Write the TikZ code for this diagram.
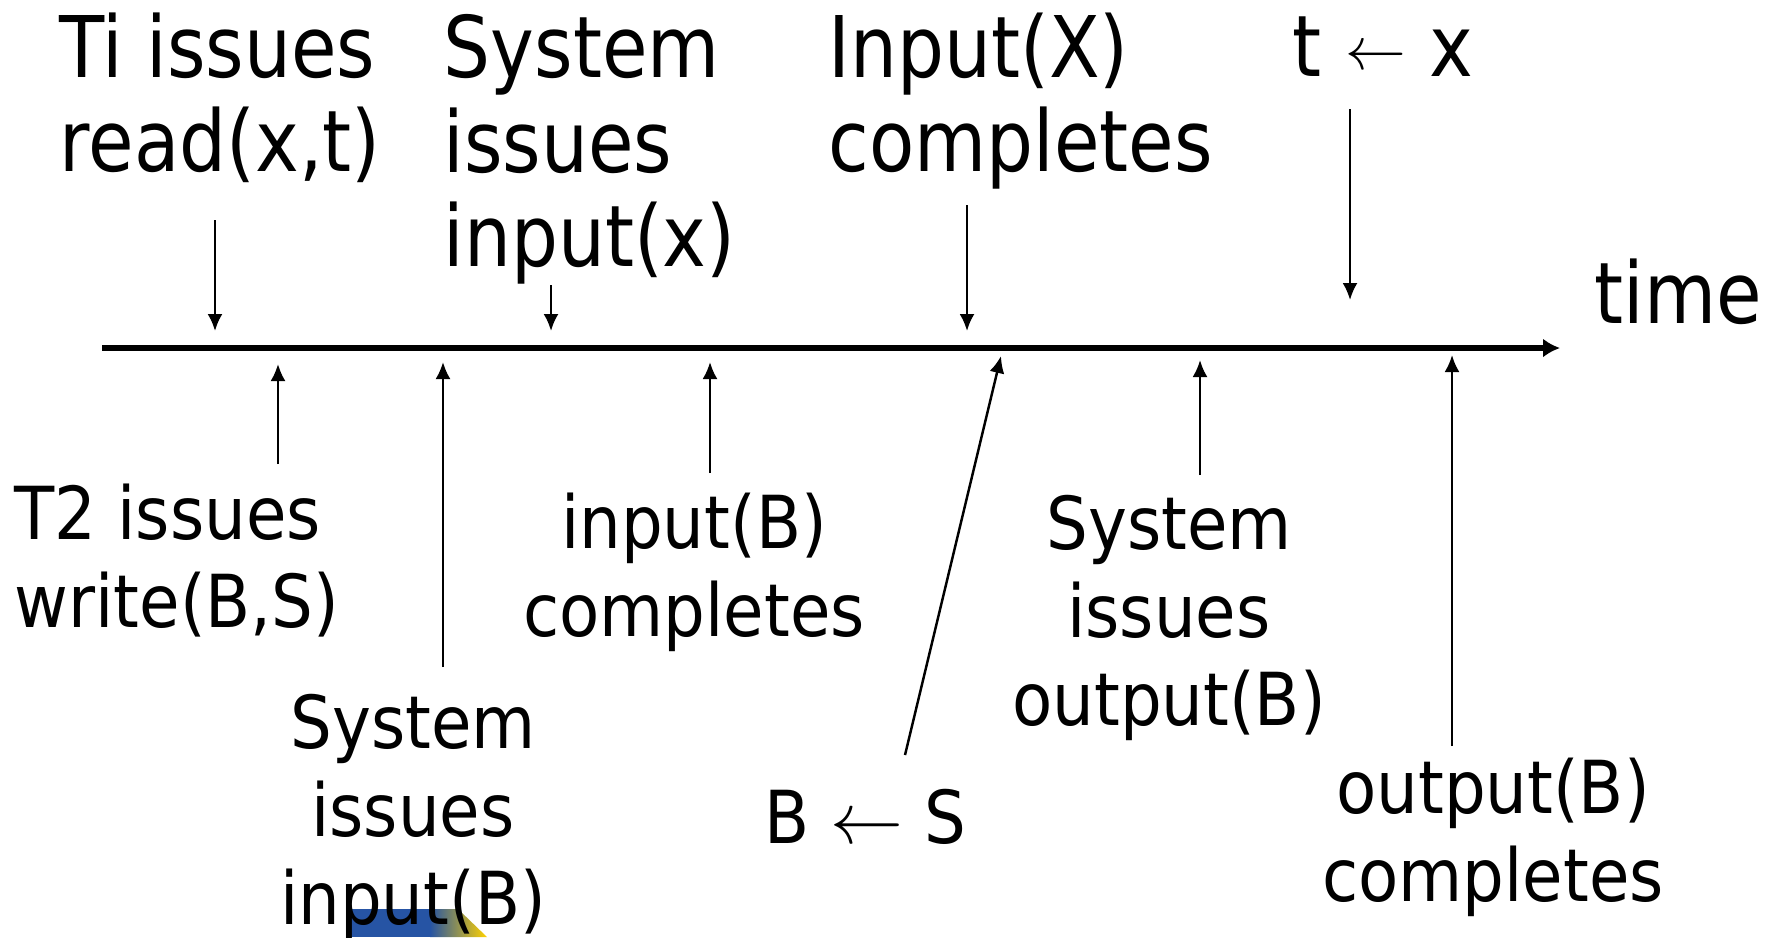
\documentclass[tikz,border=0pt]{standalone}
\usepackage{fontspec}
\setmainfont{DejaVu Sans}[FakeStretch=0.87]
\newfontfamily\lowerfont{DejaVu Sans}[FakeStretch=0.9]
\usetikzlibrary{arrows.meta}

\begin{document}
\begin{tikzpicture}[>={Latex[length=1.7mm,width=1.5mm]}]

\definecolor{logoblue}{RGB}{38, 84, 164}
\definecolor{logoorange}{RGB}{236, 150, 40}
\definecolor{logoyellow}{RGB}{255, 210, 0}

% Page frame
\useasboundingbox (0,0) rectangle (17.73,-9.37);

\tikzset{
    upper label/.style={
        inner sep=0pt, align=left, anchor=north west,
        font=\fontsize{24.2pt}{26.9pt}\selectfont
    },
    lower label/.style={
        inner sep=0pt, align=center, anchor=north,
        font=\lowerfont\fontsize{20.8pt}{25pt}\selectfont
    },
    event/.style={
        ->, line width=0.7pt
    },
    time axis/.style={
        -{Latex[length=1.7mm,width=1.9mm]}, line width=1.7pt
    }
}

% Corner of the logo at the bottom edge
\fill[logoblue] (3.50,-9.09) rectangle (4.31,-9.37);
\shade[left color=logoblue, middle color=logoorange, right color=logoyellow]
    (4.30,-9.09) -- (4.58,-9.09) -- (4.87,-9.37) -- (4.30,-9.37) -- cycle;

% --- TIME AXIS ---
\coordinate (AX0) at (1.02,-3.48);
\coordinate (AX1) at (15.60,-3.48);
\draw[time axis] (AX0) -- (AX1);
\node[upper label] (TIME) at (15.94,-2.58) {time};

% Events above the axis
\node[upper label] (L1) at (0.59,-0.12) {Ti issues\\read(x,t)};
\node[upper label] (L2) at (4.43,-0.14) {System\\issues\\input(x)};
\node[upper label] (L3) at (8.28,-0.12) {Input(X)\\completes};
\node[upper label] (L4) at (12.92,-0.16) {t \raisebox{2pt}{\fontsize{17pt}{17pt}\selectfont$\leftarrow$} x};

\coordinate (D1s) at (2.15,-2.20);  \coordinate (D1) at (2.15,-3.31);
\coordinate (D2s) at (5.51,-2.85);  \coordinate (D2) at (5.51,-3.31);
\coordinate (D3s) at (9.67,-2.05);  \coordinate (D3) at (9.67,-3.31);
\coordinate (D4s) at (13.50,-1.09); \coordinate (D4) at (13.50,-3.00);

\draw[event] (D1s) -- (D1);
\draw[event] (D2s) -- (D2);
\draw[event] (D3s) -- (D3);
\draw[event] (D4s) -- (D4);

% Events below the axis
\node[lower label, align=left, anchor=north west] (M1) at (0.14,-4.83) {T2 issues\\write(B,S)};
\node[lower label] (M2) at (4.13,-6.94) {System\\issues\\input(B)};
\node[lower label] (M3) at (6.94,-4.92) {input(B)\\completes};
\node[lower label] (M4) at (8.65,-7.89) {B $\leftarrow$ S};
\node[lower label] (M5) at (11.69,-4.95) {System\\issues\\output(B)};
\node[lower label] (M6) at (14.93,-7.57) {output(B)\\completes};

\coordinate (U1s) at (2.78,-4.64);  \coordinate (U1) at (2.78,-3.64);
\coordinate (U2s) at (4.43,-6.67);  \coordinate (U2) at (4.43,-3.62);
\coordinate (U3s) at (7.10,-4.73);  \coordinate (U3) at (7.10,-3.62);
\coordinate (U4s) at (9.05,-7.55);  \coordinate (U4) at (10.01,-3.56);
\coordinate (U5s) at (12.00,-4.75); \coordinate (U5) at (12.00,-3.60);
\coordinate (U6s) at (14.52,-7.46); \coordinate (U6) at (14.52,-3.55);

\draw[event] (U1s) -- (U1);
\draw[event] (U2s) -- (U2);
\draw[event] (U3s) -- (U3);
\draw[event] (U4s) -- (U4);
\draw[event] (U5s) -- (U5);
\draw[event] (U6s) -- (U6);

\end{tikzpicture}
\end{document}
